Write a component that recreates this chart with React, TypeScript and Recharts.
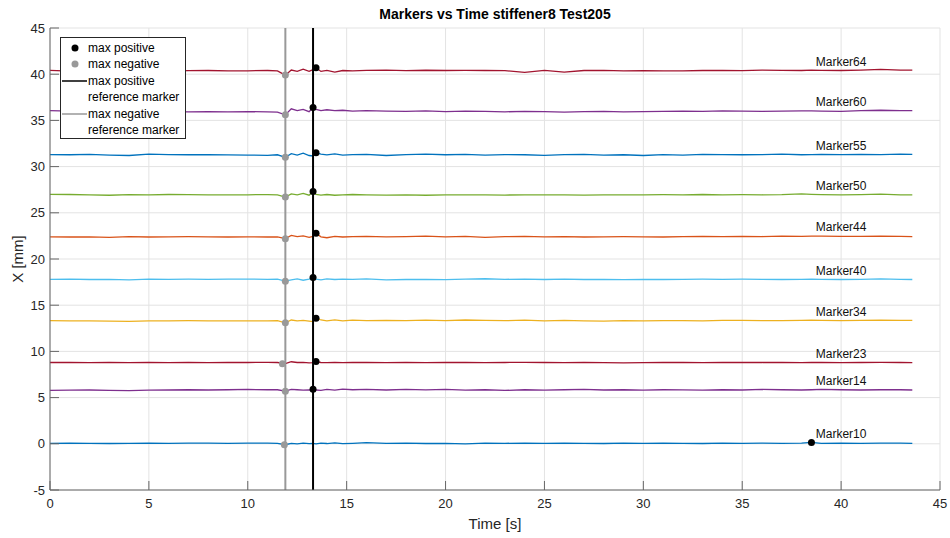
import React from "react";
import {
  ComposedChart,
  Line,
  Scatter,
  XAxis,
  YAxis,
  CartesianGrid,
  ReferenceLine,
} from "recharts";

// time samples [s]
const TIME = [
  0, 1, 2, 3, 4, 5, 6, 7, 8, 9, 10,
  11, 11.5, 11.9, 12.2, 12.5, 12.8, 13.1, 13.3, 13.45, 13.7, 14,
  14.4, 14.8, 15.3, 16, 17, 18, 19, 20, 21, 22, 23,
  24, 25, 26, 27, 28, 29, 30, 31, 32, 33, 34,
  35, 36, 37, 38, 38.5, 39, 40, 41, 42, 43, 43.6,
];

const MARKERS = [
  "Marker10", "Marker14", "Marker23", "Marker34", "Marker40",
  "Marker44", "Marker50", "Marker55", "Marker60", "Marker64",
];

// X [mm] per marker
const M10 = [
  0.05, 0.08, 0.05, 0.03, 0.05, 0.08, 0.05, 0.07, 0.08, 0.05, 0.08,
  0.07, 0.05, -0.1, 0.05, 0.0, 0.08, 0.02, 0.05, 0.0, 0.08, 0.03,
  0.1, 0.02, 0.05, 0.12, 0.05, 0.08, 0.03, 0.05, 0.0, 0.08, 0.05,
  0.08, 0.05, 0.08, 0.05, 0.03, 0.07, 0.05, 0.08, 0.05, 0.03, 0.08,
  0.05, 0.08, 0.05, 0.08, 0.15, 0.05, 0.08, 0.05, 0.07, 0.08, 0.05,
];
const M14 = [
  5.78, 5.8, 5.82, 5.78, 5.75, 5.8, 5.82, 5.85, 5.82, 5.85, 5.88,
  5.85, 5.85, 5.7, 5.9, 5.85, 5.8, 5.82, 5.9, 5.82, 5.78, 5.88,
  5.8, 5.92, 5.85, 5.9, 5.82, 5.88, 5.83, 5.9, 5.8, 5.85, 5.78,
  5.85, 5.8, 5.85, 5.88, 5.82, 5.85, 5.8, 5.85, 5.83, 5.8, 5.85,
  5.82, 5.88, 5.85, 5.82, 5.85, 5.88, 5.85, 5.82, 5.85, 5.85, 5.82,
];
const M23 = [
  8.8, 8.82, 8.78, 8.8, 8.78, 8.8, 8.78, 8.8, 8.78, 8.8, 8.8,
  8.82, 8.8, 8.68, 8.88, 8.8, 8.82, 8.75, 8.78, 8.9, 8.8, 8.78,
  8.82, 8.78, 8.8, 8.82, 8.78, 8.8, 8.78, 8.8, 8.82, 8.78, 8.8,
  8.82, 8.8, 8.78, 8.8, 8.78, 8.76, 8.78, 8.8, 8.8, 8.78, 8.82,
  8.8, 8.8, 8.82, 8.78, 8.8, 8.8, 8.78, 8.8, 8.82, 8.8, 8.78,
];
const M34 = [
  13.32, 13.3, 13.3, 13.28, 13.25, 13.3, 13.3, 13.32, 13.3, 13.3, 13.3,
  13.3, 13.32, 13.1, 13.4, 13.3, 13.35, 13.28, 13.22, 13.6, 13.4, 13.3,
  13.42, 13.3, 13.38, 13.33, 13.35, 13.32, 13.38, 13.32, 13.4, 13.35, 13.32,
  13.38, 13.3, 13.35, 13.3, 13.28, 13.32, 13.3, 13.32, 13.33, 13.3, 13.35,
  13.35, 13.33, 13.32, 13.35, 13.37, 13.35, 13.32, 13.35, 13.38, 13.35, 13.35,
];
const M40 = [
  17.8, 17.82, 17.78, 17.8, 17.75, 17.82, 17.8, 17.82, 17.8, 17.83, 17.82,
  17.8, 17.83, 17.6, 17.75, 17.85, 17.7, 17.82, 18.0, 17.82, 17.75, 17.85,
  17.78, 17.83, 17.8, 17.85, 17.75, 17.78, 17.8, 17.76, 17.82, 17.86, 17.8,
  17.83, 17.78, 17.82, 17.78, 17.8, 17.76, 17.8, 17.78, 17.8, 17.82, 17.8,
  17.82, 17.8, 17.78, 17.8, 17.82, 17.8, 17.78, 17.8, 17.85, 17.8, 17.78,
];
const M44 = [
  22.4, 22.38, 22.4, 22.35, 22.42, 22.38, 22.4, 22.42, 22.4, 22.38, 22.4,
  22.38, 22.4, 22.2, 22.55, 22.42, 22.5, 22.35, 22.45, 22.8, 22.4, 22.3,
  22.45, 22.38, 22.42, 22.45, 22.4, 22.42, 22.48, 22.4, 22.45, 22.35, 22.42,
  22.45, 22.4, 22.42, 22.38, 22.4, 22.42, 22.4, 22.38, 22.42, 22.45, 22.42,
  22.45, 22.43, 22.47, 22.45, 22.48, 22.47, 22.45, 22.45, 22.48, 22.45, 22.43,
];
const M50 = [
  27.0, 26.98, 26.95, 26.9, 26.97, 26.95, 26.98, 26.97, 26.95, 26.93, 26.95,
  26.97, 26.95, 26.7, 27.05, 26.95, 27.1, 26.9, 27.3, 27.0, 26.92, 26.98,
  26.9, 26.95, 26.98, 26.95, 26.92, 26.95, 26.9, 26.95, 26.93, 26.95, 26.92,
  26.95, 26.93, 26.95, 26.92, 26.95, 26.93, 26.95, 26.97, 26.95, 26.98, 26.95,
  26.97, 26.95, 26.97, 27.05, 27.0, 26.97, 26.95, 26.97, 27.02, 26.95, 26.95,
];
const M55 = [
  31.3, 31.28, 31.32, 31.25, 31.2, 31.35, 31.3, 31.28, 31.3, 31.27, 31.25,
  31.22, 31.28, 31.0, 31.4, 31.25, 31.45, 31.2, 31.15, 31.5, 31.35, 31.28,
  31.38, 31.25, 31.3, 31.32, 31.2, 31.3, 31.35, 31.28, 31.33, 31.25, 31.3,
  31.28, 31.22, 31.3, 31.32, 31.25, 31.28, 31.2, 31.3, 31.25, 31.32, 31.3,
  31.28, 31.3, 31.35, 31.28, 31.3, 31.32, 31.3, 31.33, 31.3, 31.35, 31.33,
];
const M60 = [
  36.05, 36.0, 35.98, 35.95, 36.0, 35.97, 35.95, 35.92, 35.95, 35.93, 35.95,
  35.92, 35.9, 35.6, 36.25, 36.05, 36.2, 35.95, 36.4, 36.2, 36.05, 36.15,
  36.05, 36.1, 36.0, 36.05, 36.0, 35.98, 36.02, 35.95, 36.0, 35.97, 35.93,
  35.98, 35.95, 35.9, 35.95, 35.97, 35.93, 35.95, 35.97, 36.0, 35.98, 36.02,
  36.0, 35.98, 36.0, 36.03, 36.02, 36.0, 35.98, 36.05, 36.1, 36.05, 36.05,
];
const M64 = [
  40.42, 40.33, 40.3, 40.34, 40.37, 40.36, 40.33, 40.38, 40.4, 40.35, 40.37,
  40.4, 40.36, 39.9, 40.45, 40.3, 40.55, 40.32, 40.5, 40.7, 40.3, 40.42,
  40.22, 40.4, 40.35, 40.42, 40.45, 40.38, 40.43, 40.4, 40.42, 40.4, 40.38,
  40.2, 40.42, 40.22, 40.4, 40.42, 40.36, 40.38, 40.35, 40.36, 40.4, 40.42,
  40.38, 40.45, 40.42, 40.4, 40.44, 40.42, 40.4, 40.45, 40.52, 40.45, 40.45,
];
const VALUES = [M10, M14, M23, M34, M40, M44, M50, M55, M60, M64];

// max positive / max negative points, same order as MARKERS
const MAX_POS_T = [38.5, 13.3, 13.45, 13.45, 13.3, 13.45, 13.3, 13.45, 13.3, 13.45];
const MAX_POS_X = [0.15, 5.9, 8.9, 13.6, 18.0, 22.8, 27.3, 31.5, 36.4, 40.7];
const MAX_NEG_T = [11.85, 11.9, 11.75, 11.9, 11.9, 11.9, 11.9, 11.9, 11.9, 11.9];
const MAX_NEG_X = [-0.1, 5.7, 8.65, 13.1, 17.6, 22.2, 26.7, 31.0, 35.6, 39.9];

// reference marker times
const REF_POS_T = 13.3;
const REF_NEG_T = 11.9;
const LABEL_T = 40;

const X_TICKS = [0, 5, 10, 15, 20, 25, 30, 35, 40, 45];
const Y_TICKS = [-5, 0, 5, 10, 15, 20, 25, 30, 35, 40, 45];

const COLORS = [
  "#0072BD", "#7E2F8E", "#A2142F", "#EDB120", "#4DBEEE",
  "#D95319", "#77AC30", "#0072BD", "#7E2F8E", "#A2142F",
];

const FONT = '"Liberation Sans", Arial, Helvetica, sans-serif';

const rows = TIME.map((t, i) => {
  const r: Record<string, number> = { t };
  MARKERS.forEach((m, k) => {
    r[m] = VALUES[k][i];
  });
  return r;
});

const posPts = MAX_POS_T.map((t, i) => ({ t, v: MAX_POS_X[i] }));
const negPts = MAX_NEG_T.map((t, i) => ({ t, v: MAX_NEG_X[i] }));
const labelIdx = TIME.indexOf(LABEL_T);
const labelPts = MARKERS.map((m, k) => ({ t: LABEL_T, v: VALUES[k][labelIdx], name: m }));

const dot = (fill: string) => (p: any) =>
  p.cx == null ? <g /> : <circle cx={p.cx} cy={p.cy} r={3.5} fill={fill} />;

const labelShape = (p: any) =>
  p.cx == null ? (
    <g />
  ) : (
    <text x={p.cx} y={p.cy - 5} textAnchor="middle" fontSize={12} fill="#111" fontFamily={FONT}>
      {p.payload.name}
    </text>
  );

const tickStyle = { fill: "#262626", fontSize: 13, fontFamily: FONT };

function LegendBox() {
  return (
    <svg
      width={126}
      height={102}
      style={{ position: "absolute", left: 60, top: 37 }}
      fontFamily={FONT}
      fontSize={12}
    >
      <rect x={0.5} y={0.5} width={125} height={101} fill="#fff" stroke="#262626" />
      <circle cx={15} cy={11} r={3.5} fill="#000" />
      <text x={28} y={11} dominantBaseline="central">max positive</text>
      <circle cx={15} cy={27} r={3.5} fill="#999" />
      <text x={28} y={27} dominantBaseline="central">max negative</text>
      <line x1={2} x2={27} y1={44} y2={44} stroke="#000" strokeWidth={1.5} />
      <text x={28} y={44} dominantBaseline="central">max positive</text>
      <text x={28} y={60} dominantBaseline="central">reference marker</text>
      <line x1={2} x2={27} y1={77} y2={77} stroke="#999" strokeWidth={1.5} />
      <text x={28} y={77} dominantBaseline="central">max negative</text>
      <text x={28} y={93} dominantBaseline="central">reference marker</text>
    </svg>
  );
}

export default function App() {
  return (
    <div
      style={{
        position: "absolute",
        left: 0,
        top: 0,
        width: 950,
        height: 538,
        background: "#fff",
        fontFamily: FONT,
      }}
    >
      <ComposedChart
        width={950}
        height={538}
        data={rows}
        margin={{ top: 28, right: 10, bottom: 0, left: 0 }}
      >
        <CartesianGrid stroke="#e3e3e3" vertical horizontal />
        <XAxis
          type="number"
          dataKey="t"
          domain={[0, 45]}
          ticks={X_TICKS}
          height={48}
          tickSize={-9}
          tickMargin={18}
          stroke="#666"
          tick={tickStyle}
          allowDataOverflow
        />
        <YAxis
          type="number"
          domain={[-5, 45]}
          ticks={Y_TICKS}
          width={50}
          tickSize={-9}
          tickMargin={14}
          stroke="#666"
          tick={tickStyle}
          allowDataOverflow
        />
        {MARKERS.map((m, k) => (
          <Line
            key={m}
            type="linear"
            dataKey={m}
            stroke={COLORS[k]}
            strokeWidth={1.3}
            dot={false}
            activeDot={false}
            isAnimationActive={false}
          />
        ))}
        <ReferenceLine x={REF_NEG_T} stroke="#999" strokeWidth={2} />
        <ReferenceLine x={REF_POS_T} stroke="#000" strokeWidth={2} />
        <Scatter data={negPts} dataKey="v" shape={dot("#999")} isAnimationActive={false} />
        <Scatter data={posPts} dataKey="v" shape={dot("#000")} isAnimationActive={false} />
        <Scatter data={labelPts} dataKey="v" shape={labelShape} isAnimationActive={false} />
      </ComposedChart>
      <LegendBox />
      <div
        style={{
          position: "absolute",
          left: 50,
          width: 890,
          top: 6,
          textAlign: "center",
          fontWeight: "bold",
          fontSize: 14,
          lineHeight: "16px",
          color: "#000",
        }}
      >
        Markers vs Time stiffener8 Test205
      </div>
      <div
        style={{
          position: "absolute",
          left: 50,
          width: 890,
          top: 515,
          textAlign: "center",
          fontSize: 15,
          lineHeight: "18px",
          color: "#262626",
        }}
      >
        Time [s]
      </div>
      <div
        style={{
          position: "absolute",
          left: 18,
          top: 259,
          transform: "translate(-50%, -50%) rotate(-90deg)",
          whiteSpace: "nowrap",
          fontSize: 15,
          lineHeight: "18px",
          color: "#262626",
        }}
      >
        X [mm]
      </div>
    </div>
  );
}
